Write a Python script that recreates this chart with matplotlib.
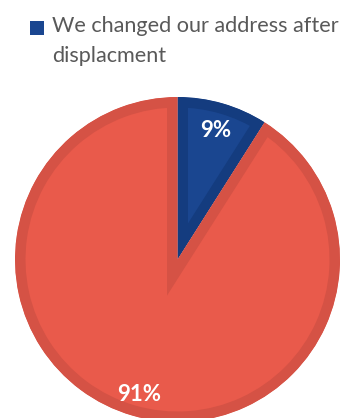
import matplotlib.pyplot as plt
import matplotlib.patches as mpatches
import matplotlib.transforms as mtransforms
from matplotlib.legend_handler import HandlerPatch

# Share of respondents (percent)
labels = ["We changed our address after\ndisplacment", "We did not change our address"]
shares = [9, 91]

BLUE = "#1a4690"
BLUE_EDGE = "#143c7f"
RED = "#e95a4b"
RED_EDGE = "#d55245"
TEXT = "#595959"

DPI = 100
fig = plt.figure(figsize=(3.47, 4.18), dpi=DPI)

# pie sits at (177.5, 259.5) px with a 162.5 px radius
W, H = 347, 418
cx, cy, r = 177.5, 259.5, 162.5
ax = fig.add_axes([(cx - r) / W, (H - cy - r) / H, 2 * r / W, 2 * r / H])

wedges, _, autotexts = ax.pie(
    shares, colors=[BLUE, RED], startangle=90, counterclock=False,
    radius=1, autopct="%d%%", pctdistance=0.845,
    textprops=dict(color="white", fontsize=16, fontweight="bold",
                   family="Lato"),
)
ax.set_xlim(-1, 1)
ax.set_ylim(-1, 1)
ax.set_aspect("equal")
ax.axis("off")

# darker band just inside each slice outline (stroke clipped to the slice)
edge_px = 21
for w, ec in zip(wedges, [BLUE_EDGE, RED_EDGE]):
    w.set_edgecolor(ec)
    w.set_linewidth(edge_px * 72 / DPI)
    w.set_joinstyle("miter")
    w.set_clip_on(True)
    w.set_clip_path(w)

# nudge the percentages down a little so the digits sit on the slice centre line
shift = mtransforms.offset_copy(ax.transData, fig=fig, x=0, y=-3, units="dots")
for t in autotexts:
    t.set_transform(shift)
    t.set_zorder(5)


class TopSquare(HandlerPatch):
    def create_artists(self, legend, orig_handle, xdescent, ydescent,
                       width, height, fontsize, trans):
        s = 10.2
        p = mpatches.Rectangle((-xdescent, -ydescent + height - s + 9.5), s, s,
                               facecolor=orig_handle.get_facecolor(),
                               edgecolor="none", transform=trans)
        return [p]


handle = mpatches.Patch(facecolor=BLUE)
leg = fig.legend([handle], [labels[0]], loc="upper left",
                 bbox_to_anchor=(30 / W, 1 - 16 / H), frameon=False,
                 handler_map={mpatches.Patch: TopSquare()},
                 prop=dict(family="Lato", size=15.6),
                 handlelength=0.64, handleheight=0.64, handletextpad=0.36,
                 borderpad=0, borderaxespad=0)
for t in leg.get_texts():
    t.set_color(TEXT)
    t.set_linespacing(1.6)

fig.savefig("out.png", dpi=DPI)
